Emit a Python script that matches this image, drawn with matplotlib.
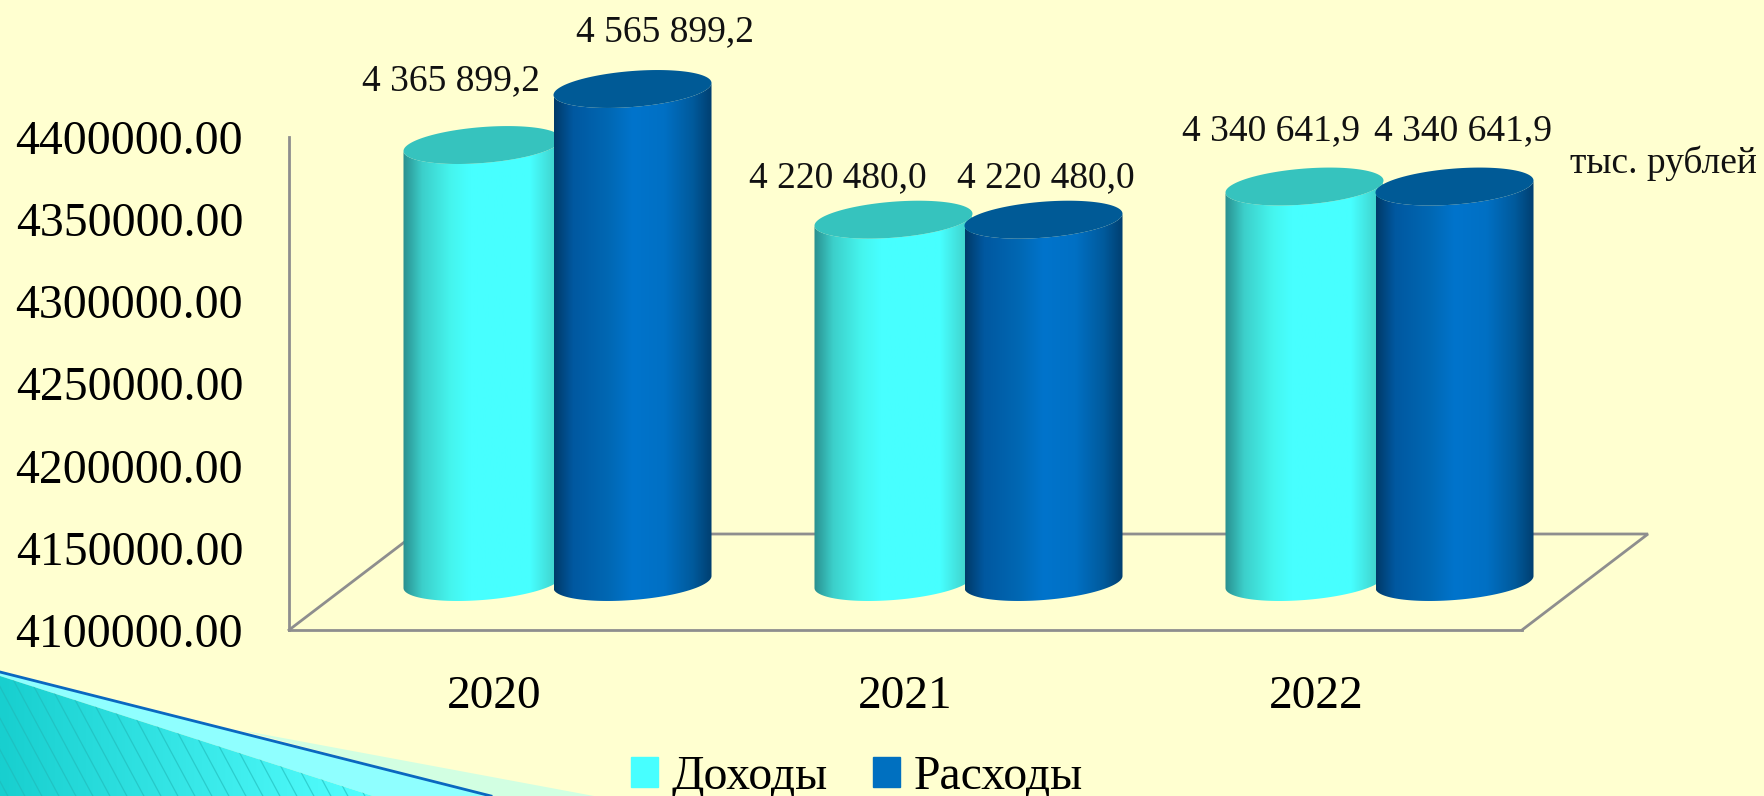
import numpy as np
import matplotlib
matplotlib.use("Agg")
import matplotlib.pyplot as plt
from matplotlib.colors import LinearSegmentedColormap
from matplotlib.patches import Patch, Polygon
from matplotlib.ticker import FuncFormatter

plt.rcParams["font.family"] = ["Liberation Serif", "DejaVu Serif"]

# Data (bar heights, labels as printed in the source)
years = ["2020", "2021", "2022"]
income = [4365899.2, 4320480.0, 4340641.9]
expense = [4565899.2, 4320480.0, 4340641.9]
income_labels = ["4 365 899,2", "4 220 480,0", "4 340 641,9"]
expense_labels = ["4 565 899,2", "4 220 480,0", "4 340 641,9"]
y_min = 4100000
y_max = 4400000
y_ticks = [4100000, 4150000, 4200000, 4250000, 4300000, 4350000, 4400000]

W, H = 1764, 796
BG = "#FFFFD0"
GREY = "#8E8E8E"

# Cylinder look, all in pixels
DEPTH_X, DEPTH_Y = 63, 48
RX, RY, TILT = 79, 18, 6
GROUP_SHIFT = 0.1825
cyan_cmap = LinearSegmentedColormap.from_list("c", [(0, "#2A8F8F"), (0.12, "#3CCFCA"), (0.3, "#45F5EE"), (0.42, "#47FFFF"), (0.8, "#47FFFF"), (1, "#3FC8C0")])
blue_cmap = LinearSegmentedColormap.from_list("b", [(0, "#003A68"), (0.12, "#0058A0"), (0.35, "#0068B4"), (0.5, "#0074CC"), (0.7, "#0070C4"), (0.88, "#005A9C"), (1, "#003F70")])

fig = plt.figure(figsize=(W / 100, H / 100), dpi=100, facecolor=BG)

# Main axes: the back wall and the front floor edge
ax = fig.add_axes([289 / W, (H - 630) / H, 1233 / W, 493 / H])
ax.patch.set_alpha(0)
ax.set_xlim(-0.5, 2.5)
ax.set_ylim(y_min, y_max)
ax.set_yticks(y_ticks)
ax.yaxis.set_major_formatter(FuncFormatter(lambda v, p: f"{v:.2f}"))
ax.set_xticks(range(len(years)))
ax.set_xticklabels(years)
ax.tick_params(axis="y", length=0, pad=33, labelsize=34.4)
ax.tick_params(axis="x", length=0, pad=33, labelsize=34)
for s in ["top", "right"]:
    ax.spines[s].set_visible(False)
for s in ["left", "bottom"]:
    ax.spines[s].set_color(GREY)
    ax.spines[s].set_linewidth(2)

# Overlay in pixels for 3D look and corner decoration
ov = fig.add_axes([0, 0, 1, 1])
ov.axis("off")


def to_pixels(x, v):
    px, py = ax.transData.transform((x, v))
    return px + DEPTH_X, H - py - DEPTH_Y


def rim(cx, cy, t):
    return np.column_stack([cx + RX * np.cos(t), cy - TILT * np.cos(t) + RY * np.sin(t)])


def cylinder(x, value, cmap, top_color, z):
    cx, top = to_pixels(x, min(value, y_max))
    cx, base = to_pixels(x, y_min)
    t = np.linspace(np.pi, 0, 80)
    body = np.vstack([rim(cx, top, t), rim(cx, base, t[::-1])])
    patch = Polygon(body, closed=True, fc="none", ec="none", zorder=z)
    ov.add_patch(patch)
    grad = np.linspace(0, 1, 256).reshape(1, -1)
    im = ov.imshow(grad, cmap=cmap, extent=(cx - RX, cx + RX, base + RY + 8, top - RY - 8), aspect="auto", zorder=z)
    im.set_clip_path(patch)
    ov.add_patch(Polygon(rim(cx, top, np.linspace(0, 2 * np.pi, 120)), closed=True, fc=top_color, ec="none", zorder=z + 0.1))


# floor depth lines behind the bars
ov.plot([289, 415, 1648, 1522], [630, 534, 534, 630], color=GREY, lw=2, zorder=1, solid_joinstyle="miter")

for i in range(len(years)):
    cylinder(i - GROUP_SHIFT, income[i], cyan_cmap, "#36C3BE", 2 + i)
    cylinder(i + GROUP_SHIFT, expense[i], blue_cmap, "#005A96", 2.5 + i)

# value labels, placed by hand in the source chart
income_xy = [(451, 81), (838, 178), (1271, 131)]
expense_xy = [(665, 32), (1046, 178), (1463, 131)]
for lab, (x, y) in zip(income_labels, income_xy):
    ov.text(x, y, lab, fontsize=27, ha="center", va="center", color="#111111", zorder=10)
for lab, (x, y) in zip(expense_labels, expense_xy):
    ov.text(x, y, lab, fontsize=27, ha="center", va="center", color="#111111", zorder=10)
ov.text(1663, 163, "тыс. рублей", fontsize=27, ha="center", va="center", color="#111111", zorder=10)

# corner decoration
ov.add_patch(Polygon([(240, 730), (594, 796), (491, 796)], closed=True, fc="#D2FFE2", ec="none", zorder=1))
ov.add_patch(Polygon([(0, 672), (491, 796), (373, 796), (0, 676)], closed=True, fc="#8FFFFF", ec="none", zorder=1))
tri = Polygon([(0, 676), (373, 796), (0, 796)], closed=True, fc="none", ec="none", zorder=1)
ov.add_patch(tri)
corner = LinearSegmentedColormap.from_list("k", ["#18CFCF", "#55FFFF"])
im = ov.imshow(np.linspace(0, 1, 256).reshape(1, -1), cmap=corner, extent=(0, 373, 796, 676), aspect="auto", zorder=1)
im.set_clip_path(tri)
for x0 in np.arange(-60, 380, 17):
    ln, = ov.plot([x0, x0 + 70], [670, 800], color="#20B8B8", lw=0.9, alpha=0.6, zorder=1.1)
    ln.set_clip_path(tri)
ov.plot([0, 491], [672, 796], color="#0A68C0", lw=2, zorder=1.2)

ov.set_xlim(0, W)
ov.set_ylim(H, 0)

handles = [Patch(color="#47FFFF", label="Доходы"), Patch(color="#0070C0", label="Расходы")]
fig.legend(handles=handles, loc="center", bbox_to_anchor=(857 / W, (H - 777) / H), ncol=2, frameon=False,
           fontsize=34.4, handlelength=0.565, handleheight=0.565, handletextpad=0.28, columnspacing=0.94)

fig.savefig("out.png", dpi=100, facecolor=BG)
